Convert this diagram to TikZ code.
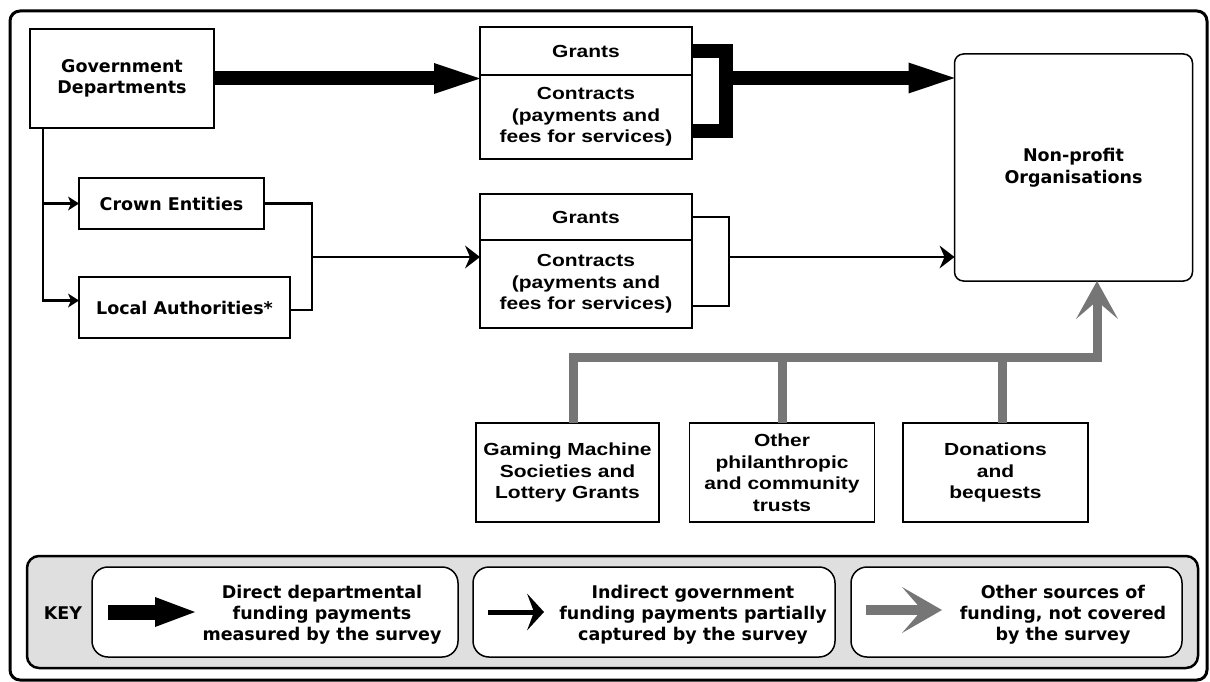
\documentclass[tikz,border=0pt]{standalone}
\usepackage{fontspec}
\setmainfont{Liberation Sans}
\newfontfamily\widefont[FakeStretch=1.2]{Liberation Sans}
\newfontfamily\heavyfont{DejaVu Sans}
\usetikzlibrary{calc, positioning, arrows.meta}
\definecolor{othergray}{HTML}{767676}
\tikzset{
  plainbox/.style={draw, line width=1.5pt, fill=white, align=center, inner sep=0pt, outer sep=0pt,
    font=\widefont\bfseries\fontsize{17.5}{21.5}\selectfont},
  heavybox/.style={plainbox, font=\heavyfont\bfseries\fontsize{17.5}{21.5}\selectfont},
  keybox/.style={draw, line width=1.5pt, fill=white, rounded corners=16pt, inner sep=0pt, minimum height=90pt},
  keytext/.style={align=center, inner sep=0pt, font=\heavyfont\bfseries\fontsize{17.5}{21}\selectfont},
  bigline/.style={line width=14pt, line join=miter},
  bigarrow/.style={line width=14pt, -{Triangle[length=46pt,width=31pt,line width=0pt]}},
  thinline/.style={line width=2.7pt, line join=miter},
  thinarrow/.style={thinline, -{Stealth[length=15pt,width=23pt,inset=5pt,line width=0pt]}},
  smallarrow/.style={thinline, -{Stealth[length=11pt,width=14pt,inset=3pt,line width=0pt]}},
  grayarrow/.style={draw=othergray, line width=9pt, line join=miter, -{Stealth[length=38pt,width=42pt,inset=18pt,line width=0pt]}},
  grayline/.style={draw=othergray, line width=9pt},
}
\begin{document}
\begin{tikzpicture}[x=1pt,y=-1pt]
\useasboundingbox (0,0) rectangle (1210,682);
\draw[line width=3pt,rounded corners=10pt] (10,11) rectangle (1207,680);

\node[heavybox,minimum width=184pt,minimum height=99pt] (gov dept) at (122,78.5) {Government\\Departments};
\node[heavybox,minimum width=185pt,minimum height=51pt] (crown) at (171.5,203.5) {Crown Entities};
\node[heavybox,minimum width=211pt,minimum height=61pt] (local) at (184.5,307.5) {Local Authorities*};

\node[plainbox,minimum width=212pt,minimum height=48pt] (grants a) at (586,51) {Grants};
\node[plainbox,minimum width=212pt,minimum height=84pt,below=0pt of grants a] (contracts a) {Contracts\\(payments and\\fees for services)};
\node[plainbox,minimum width=212pt,minimum height=46pt] (grants b) at (586,217) {Grants};
\node[plainbox,minimum width=212pt,minimum height=88pt,below=0pt of grants b] (contracts b) {Contracts\\(payments and\\fees for services)};

\node[heavybox,rounded corners=9pt,minimum width=238pt,minimum height=227pt] (npo) at (1073.5,167.5) {Non-profit\\Organisations};

\node[plainbox,minimum width=183pt,minimum height=99pt] (gaming) at (567.5,472.5) {Gaming Machine\\Societies and\\Lottery Grants};
\node[plainbox,minimum width=185pt,minimum height=99pt] (trusts) at (782,472.5) {Other\\philanthropic\\and community\\trusts};
\node[plainbox,minimum width=185pt,minimum height=99pt] (donations) at (995.5,472.5) {Donations\\and\\bequests};

\coordinate (join a) at (726,78);
\coordinate (join b) at (729,257);
\coordinate (join c) at (312,257);
\coordinate (trunk) at (1097,357);

\draw[bigarrow] (gov dept.east) -- (gov dept.east -| grants a.west);
\draw[bigline] (grants a.east) -| (join a) |- ([yshift=-14pt]contracts a.east);
\draw[bigarrow] (join a) -- (join a -| npo.west);

\draw[smallarrow] ([xshift=13pt]gov dept.south west) |- (crown.west);
\draw[smallarrow] ([xshift=13pt]gov dept.south west) |- ([yshift=7pt]local.west);
\draw[thinline] (crown.east) -| (join c) |- ([yshift=-2.5pt]local.east);
\draw[thinarrow] (join c) -- (join c -| contracts b.west);
\draw[thinline] (grants b.east) -| (join b) |- ([yshift=-22pt]contracts b.east);
\draw[thinarrow] (join b) -- (join b -| npo.west);

\draw[grayarrow] ([xshift=6pt]gaming.north) |- (trunk) -- (trunk |- npo.south);
\draw[grayline] (trusts.north) -- (trusts.north |- trunk);
\draw[grayline] ([xshift=6.5pt]donations.north) -- ([xshift=6.5pt]donations.north |- trunk);

\draw[line width=2.5pt,rounded corners=12pt,fill=gray!25] (27,556) rectangle (1198,668);
\node[keytext] (key label) at (63,613) {KEY};
\node[keybox,minimum width=366pt] (key a) at (275,612) {};
\node[keybox,minimum width=362pt] (key b) at (654,612) {};
\node[keybox,minimum width=331pt] (key c) at (1016.5,612) {};

\coordinate (key a from) at (108,612);
\coordinate (key a to) at (195,612);
\coordinate (key b from) at (488,612);
\coordinate (key b to) at (544,612);
\coordinate (key c from) at (866,610);
\coordinate (key c to) at (942,610);
\draw[line width=15pt,-{Triangle[length=40pt,width=30pt,line width=0pt]}] (key a from) -- (key a to);
\draw[line width=5pt,-{Stealth[length=17pt,width=37pt,inset=7pt,line width=0pt]}] (key b from) -- (key b to);
\draw[draw=othergray,line width=10pt,-{Stealth[length=40pt,width=46pt,inset=20pt,line width=0pt]}] (key c from) -- (key c to);

\node[keytext] (key a text) at (322,615) {Direct departmental\\funding payments\\measured by the survey};
\node[keytext] (key b text) at (693,615) {Indirect government\\funding payments partially\\captured by the survey};
\node[keytext] (key c text) at (1063,615) {Other sources of\\funding, not covered\\by the survey};
\end{tikzpicture}
\end{document}
